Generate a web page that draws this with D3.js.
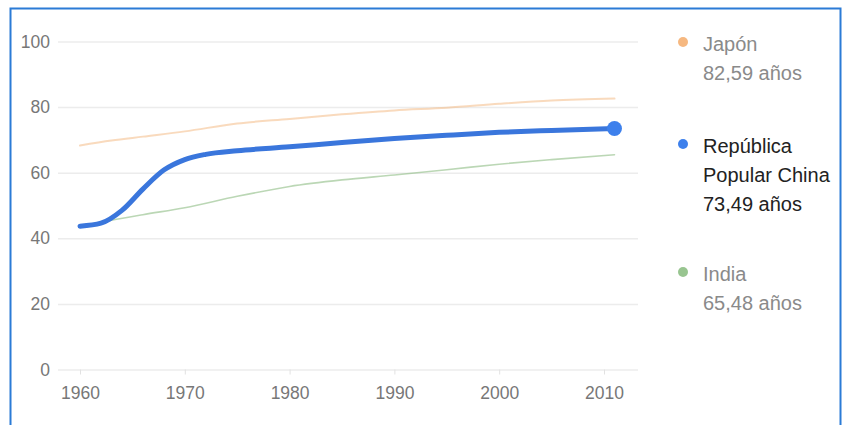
<!DOCTYPE html>
<html>
<head>
<meta charset="utf-8">
<script src="https://cdn.jsdelivr.net/npm/d3@7"></script>
<style>
  html, body { margin: 0; padding: 0; background: #fff; }
  svg { display: block; font-family: "Liberation Sans", Arial, sans-serif; }
</style>
</head>
<body>
<svg id="chart" width="842" height="425"></svg>
<script>
// Life expectancy at birth (years)
const yearsJapan = [1960, 1963, 1966, 1970, 1975, 1980, 1985, 1990, 1995, 2000, 2005, 2011];
const valuesJapan = [68.3, 69.8, 71.0, 72.6, 75.0, 76.4, 77.8, 79.0, 79.8, 81.0, 82.0, 82.59];

const yearsChina = [1960, 1962, 1964, 1966, 1968, 1970, 1972, 1975, 1980, 1985, 1990, 1995, 2000, 2005, 2011];
const valuesChina = [43.7, 44.6, 48.5, 55.0, 60.8, 64.0, 65.6, 66.7, 67.9, 69.2, 70.4, 71.4, 72.3, 72.9, 73.49];

const yearsIndia = [1960, 1963, 1966, 1970, 1975, 1980, 1985, 1990, 1995, 2000, 2005, 2011];
const valuesIndia = [43.5, 45.5, 47.2, 49.3, 52.8, 55.8, 57.8, 59.3, 60.9, 62.6, 64.0, 65.48];

const xTicks = [1960, 1970, 1980, 1990, 2000, 2010];
const yTicks = [0, 20, 40, 60, 80, 100];

const legendNames = [["Japón"], ["República", "Popular China"], ["India"]];
const legendValues = ["82,59 años", "73,49 años", "65,48 años"];

const svg = d3.select("#chart");

// frame
svg.append("rect")
  .attr("x", 10.5).attr("y", 8.5)
  .attr("width", 830).attr("height", 430)
  .attr("fill", "none")
  .attr("stroke", "#2b7bd6")
  .attr("stroke-width", 2);

const x = d3.scaleLinear().domain([1960, 2010]).range([80, 604]);
const y = d3.scaleLinear().domain([0, 100]).range([369.5, 41.5]);

const gridLeft = 58, gridRight = 638;

// y axis with gridlines
const yAxis = svg.append("g")
  .attr("transform", `translate(${gridLeft},0)`)
  .call(d3.axisLeft(y).tickValues(yTicks).tickSize(-(gridRight - gridLeft)).tickPadding(8));
yAxis.select(".domain").remove();
yAxis.selectAll(".tick line").attr("stroke", "#ececec").attr("stroke-width", 1.5);
yAxis.selectAll(".tick text")
  .attr("fill", "#777").attr("font-size", 17.5)
  .attr("font-family", "'Liberation Sans', Arial, sans-serif");

// x axis
const xAxis = svg.append("g")
  .attr("transform", `translate(0,${y(0)})`)
  .call(d3.axisBottom(x).tickValues(xTicks).tickSize(5).tickPadding(12).tickFormat(d3.format("d")));
xAxis.select(".domain").remove();
xAxis.selectAll(".tick line").attr("stroke", "#e2e2e2");
xAxis.selectAll(".tick text")
  .attr("fill", "#777").attr("font-size", 17.5)
  .attr("font-family", "'Liberation Sans', Arial, sans-serif");

const line = d3.line()
  .x(d => x(d[0]))
  .y(d => y(d[1]))
  .curve(d3.curveMonotoneX);

const series = [
  { years: yearsJapan, values: valuesJapan, stroke: "#f3b57c", width: 2, opacity: 0.5 },
  { years: yearsIndia, values: valuesIndia, stroke: "#8ebd84", width: 1.6, opacity: 0.6 },
  { years: yearsChina, values: valuesChina, stroke: "#3a76dc", width: 5, opacity: 1 }
];

series.forEach(s => {
  const pts = s.years.map((yr, i) => [yr, s.values[i]]);
  svg.append("path")
    .datum(pts)
    .attr("d", line)
    .attr("fill", "none")
    .attr("stroke", s.stroke)
    .attr("stroke-width", s.width)
    .attr("stroke-opacity", s.opacity)
    .attr("stroke-linecap", "round");
});

// end marker of the highlighted series
const lastC = yearsChina.length - 1;
svg.append("circle")
  .attr("cx", x(yearsChina[lastC]))
  .attr("cy", y(valuesChina[lastC]))
  .attr("r", 7.5)
  .attr("fill", "#3d80ec");

// legend
const legendItems = [
  { dot: "#f6b880", color: "#8a8a8a", top: 44 },
  { dot: "#3d80ec", color: "#222", top: 146 },
  { dot: "#98c590", color: "#8a8a8a", top: 274 }
];
const lineH = 29;
legendItems.forEach((it, i) => {
  svg.append("circle")
    .attr("cx", 683).attr("cy", it.top - 2)
    .attr("r", 5).attr("fill", it.dot);
  const lines = legendNames[i].concat([legendValues[i]]);
  lines.forEach((t, j) => {
    svg.append("text")
      .attr("x", 703)
      .attr("y", it.top + j * lineH)
      .attr("dy", "0.36em")
      .attr("font-size", 20)
      .attr("fill", it.color)
      .text(t);
  });
});
</script>
</body>
</html>
